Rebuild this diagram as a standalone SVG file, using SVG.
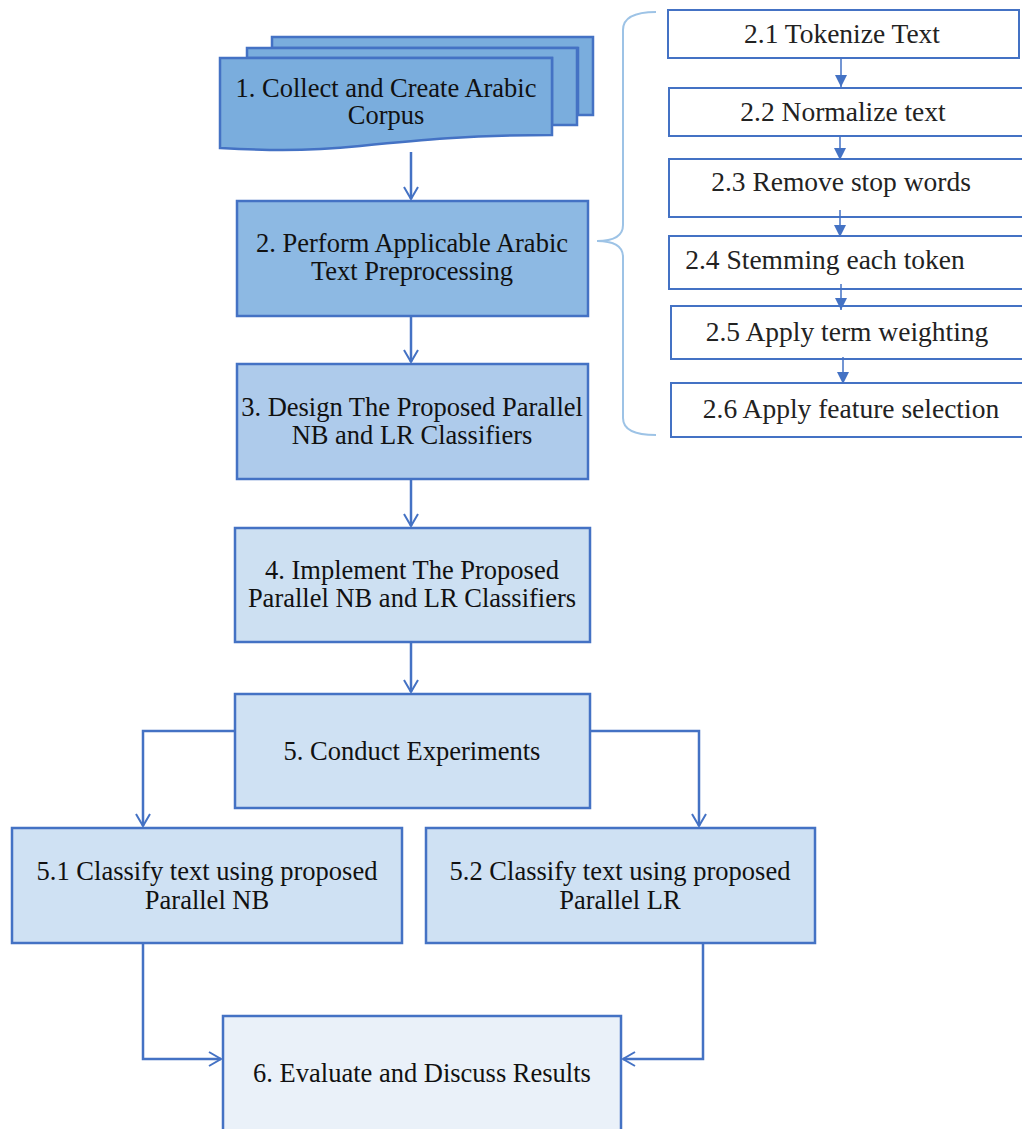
<svg xmlns="http://www.w3.org/2000/svg" width="1022" height="1129" viewBox="0 0 1022 1129">
<defs>
<marker id="open" markerWidth="16" markerHeight="16" refX="13" refY="8" orient="auto" markerUnits="userSpaceOnUse">
<path d="M1,1 L13,8 L1,15" fill="none" stroke="#4472c4" stroke-width="2"/>
</marker>
<marker id="solid" markerWidth="14" markerHeight="14" refX="12" refY="7" orient="auto" markerUnits="userSpaceOnUse">
<path d="M0,1 L12,7 L0,13 Z" fill="#4472c4"/>
</marker>
</defs>
<style>
.box{stroke:#4472c4;stroke-width:2.5}
.sub{fill:#fff;stroke:#4472c4;stroke-width:2}
.lbl{fill:#111;text-anchor:middle}
.slbl{fill:#222;text-anchor:middle}
.c{fill:none;stroke:#4472c4;stroke-width:2.5}
.cs{fill:none;stroke:#4472c4;stroke-width:1.5}
</style>
<g id="node1">
<path d="M272,37 L593,37 L593,115 L578,115 L578,48 L272,48 Z" fill="#7aaddd" class="box"/>
<path d="M247,48 L577,48 L577,125 L552,125 L552,58 L247,58 Z" fill="#7aaddd" class="box"/>
<path d="M220,58 L552,58 L552,135 C470,135 420,140 360,146 C300,152 260,150 220,148 Z" fill="#7aaddd" class="box"/>
<text class="lbl" style="font-family:'Liberation Serif',serif;font-size:26.5px" x="386" y="97">1. Collect and Create Arabic</text>
<text class="lbl" style="font-family:'Liberation Serif',serif;font-size:26.5px" x="386" y="124">Corpus</text>
</g>
<g id="node2">
<rect x="237" y="201" width="351" height="115" fill="#8db9e3" class="box"/>
<text class="lbl" style="font-family:'Liberation Serif',serif;font-size:26.5px" x="412" y="252">2. Perform Applicable Arabic</text>
<text class="lbl" style="font-family:'Liberation Serif',serif;font-size:26.5px" x="412" y="280">Text Preprocessing</text>
</g>
<g id="node3">
<rect x="237" y="364" width="351" height="115" fill="#aecbeb" class="box"/>
<text class="lbl" style="font-family:'Liberation Serif',serif;font-size:26.5px" x="412" y="416">3. Design The Proposed Parallel</text>
<text class="lbl" style="font-family:'Liberation Serif',serif;font-size:26.5px" x="412" y="444">NB and LR Classifiers</text>
</g>
<g id="node4">
<rect x="235" y="528" width="355" height="114" fill="#cde0f2" class="box"/>
<text class="lbl" style="font-family:'Liberation Serif',serif;font-size:26.5px" x="412" y="579">4. Implement The Proposed</text>
<text class="lbl" style="font-family:'Liberation Serif',serif;font-size:26.5px" x="412" y="607">Parallel NB and LR Classifiers</text>
</g>
<g id="node5">
<rect x="235" y="694" width="355" height="114" fill="#cfe1f3" class="box"/>
<text class="lbl" style="font-family:'Liberation Serif',serif;font-size:26.5px" x="412" y="760">5. Conduct Experiments</text>
</g>
<g id="node51">
<rect x="12" y="828" width="390" height="115" fill="#cfe1f3" class="box"/>
<text class="lbl" style="font-family:'Liberation Serif',serif;font-size:26.5px" x="207" y="880">5.1 Classify text using proposed</text>
<text class="lbl" style="font-family:'Liberation Serif',serif;font-size:26.5px" x="207" y="909">Parallel NB</text>
</g>
<g id="node52">
<rect x="426" y="828" width="389" height="115" fill="#cfe1f3" class="box"/>
<text class="lbl" style="font-family:'Liberation Serif',serif;font-size:26.5px" x="620" y="880">5.2 Classify text using proposed</text>
<text class="lbl" style="font-family:'Liberation Serif',serif;font-size:26.5px" x="620" y="909">Parallel LR</text>
</g>
<g id="node6">
<rect x="223" y="1016" width="398" height="125" fill="#eaf1f9" class="box"/>
<text class="lbl" style="font-family:'Liberation Serif',serif;font-size:26.5px" x="422" y="1082">6. Evaluate and Discuss Results</text>
</g>
<g id="sub21"><rect x="668" y="10" width="351" height="48" class="sub"/><text class="slbl" style="font-family:'Liberation Serif',serif;font-size:27.5px" x="842" y="43">2.1 Tokenize Text</text></g>
<g id="sub22"><rect x="669" y="88" width="354" height="48" class="sub"/><text class="slbl" style="font-family:'Liberation Serif',serif;font-size:27.5px" x="843" y="121">2.2 Normalize text</text></g>
<g id="sub23"><rect x="669" y="159" width="354" height="58" class="sub"/><text class="slbl" style="font-family:'Liberation Serif',serif;font-size:27.5px" x="841" y="191">2.3 Remove stop words</text></g>
<g id="sub24"><rect x="669" y="236" width="354" height="53" class="sub"/><text class="slbl" style="font-family:'Liberation Serif',serif;font-size:27.5px" x="825" y="269">2.4 Stemming each token</text></g>
<g id="sub25"><rect x="671" y="306" width="352" height="53" class="sub"/><text class="slbl" style="font-family:'Liberation Serif',serif;font-size:27.5px" x="847" y="341">2.5 Apply term weighting</text></g>
<g id="sub26"><rect x="671" y="383" width="352" height="54" class="sub"/><text class="slbl" style="font-family:'Liberation Serif',serif;font-size:27.5px" x="851" y="418">2.6 Apply feature selection</text></g>
<g id="brace">
<path d="M656,12 Q623,12 623,30 L623,225 Q623,241 597,241 Q623,241 623,257 L623,418 Q623,435 656,435" fill="none" stroke="#9dc3e6" stroke-width="2"/>
</g>
<g id="connectors">
<line class="c" x1="411" y1="152" x2="411" y2="199" marker-end="url(#open)"/>
<line class="c" x1="411" y1="316" x2="411" y2="362" marker-end="url(#open)"/>
<line class="c" x1="411" y1="479" x2="411" y2="526" marker-end="url(#open)"/>
<line class="c" x1="411" y1="642" x2="411" y2="692" marker-end="url(#open)"/>
<polyline class="c" points="235,731 143,731 143,826" marker-end="url(#open)"/>
<polyline class="c" points="590,731 699,731 699,826" marker-end="url(#open)"/>
<polyline class="c" points="143,943 143,1059 221,1059" marker-end="url(#open)"/>
<polyline class="c" points="703,943 703,1059 623,1059" marker-end="url(#open)"/>
<line class="cs" x1="841" y1="58" x2="841" y2="87" marker-end="url(#solid)"/>
<line class="cs" x1="840" y1="136" x2="840" y2="160" marker-end="url(#solid)"/>
<line class="cs" x1="840" y1="210" x2="840" y2="237" marker-end="url(#solid)"/>
<line class="cs" x1="841" y1="284" x2="841" y2="310" marker-end="url(#solid)"/>
<line class="cs" x1="843" y1="357" x2="843" y2="384" marker-end="url(#solid)"/>
</g>
</svg>
